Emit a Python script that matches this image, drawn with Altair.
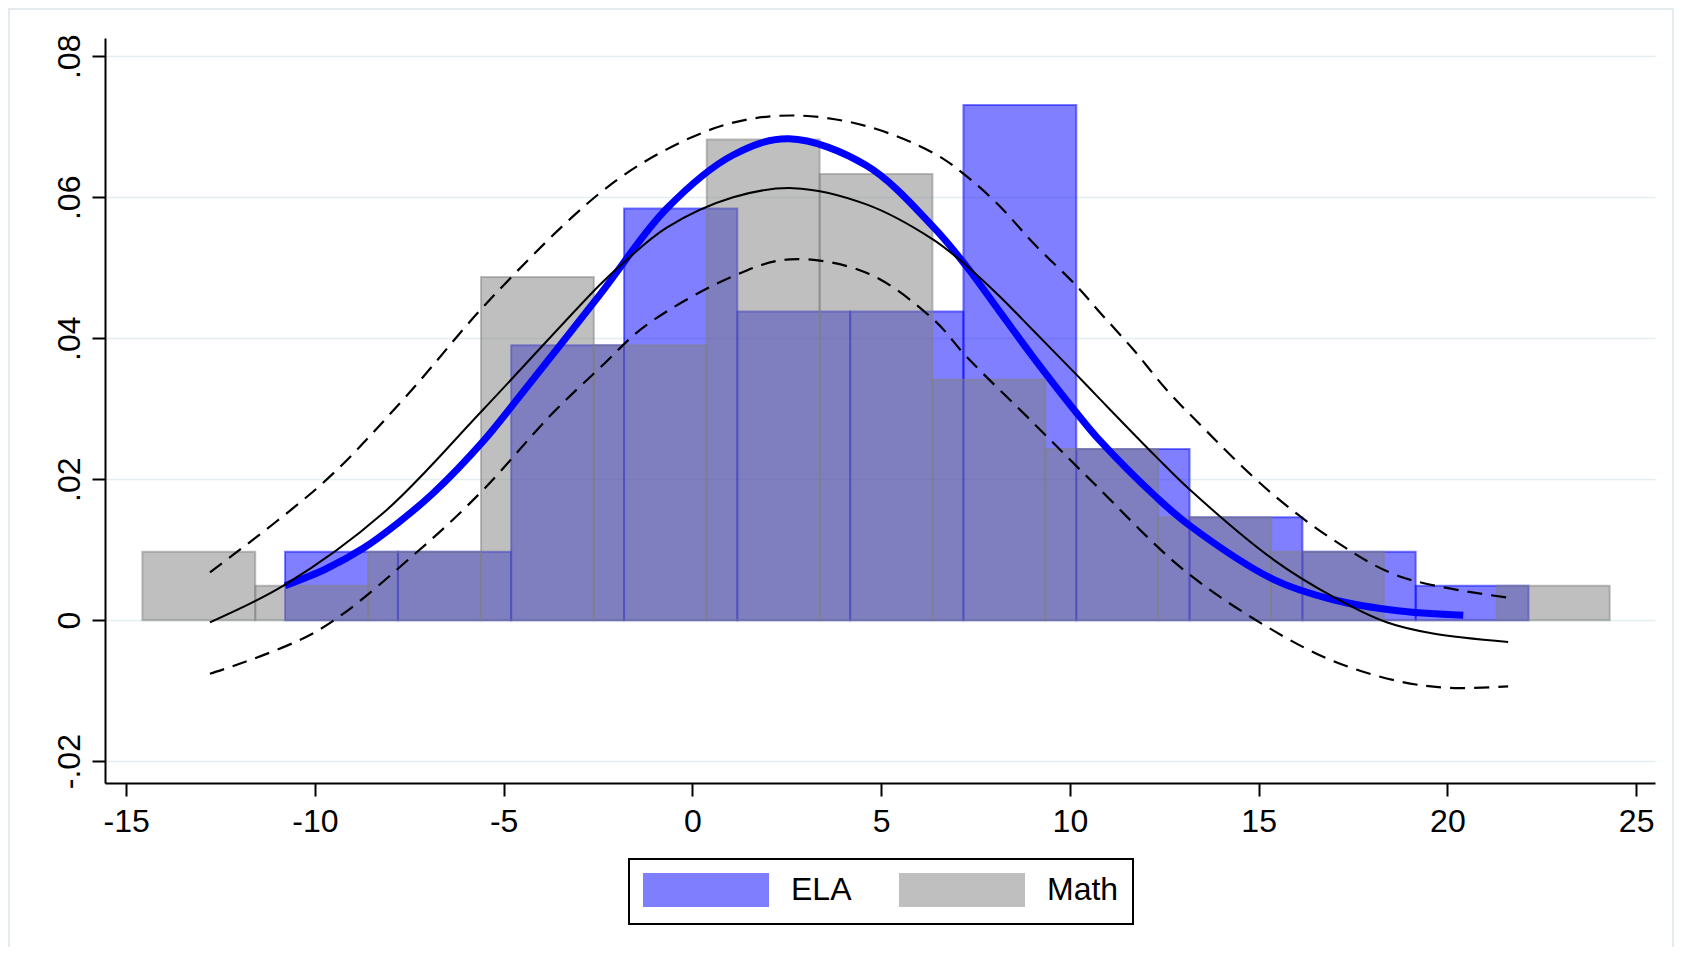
import altair as alt
import pandas as pd

# ---------------- data ----------------
ela_edges = [-10.79, -7.80, -4.80, -1.81, 1.19, 4.18, 7.18, 10.17, 13.17, 16.16, 19.16, 22.15]
ela_density = [0.0097, 0.0097, 0.0390, 0.0584, 0.0438, 0.0438, 0.0731, 0.0243, 0.0146, 0.0097, 0.0049]

math_edges = [-14.57, -11.58, -8.59, -5.60, -2.61, 0.38, 3.37, 6.36, 9.35, 12.34, 15.33, 18.32, 21.31, 24.30]
math_density = [0.0097, 0.0049, 0.0097, 0.0487, 0.0390, 0.0682, 0.0633, 0.0341, 0.0243, 0.0146, 0.0097, 0.0, 0.0049]

ela_curve_x = [-10.79, -9.7, -8.72, -7.8, -6.87, -5.54, -4.66, -2.45, -0.68, 1.08, 2.56, 4.61, 6.38, 7.26,
               8.15, 9.03, 10.18, 10.79, 12.3, 13.18, 15.39, 16.98, 18.74, 20.42]
ela_curve_y = [0.0049, 0.0073, 0.0102, 0.0138, 0.0180, 0.0254, 0.0312, 0.0462, 0.0584, 0.0660, 0.0683, 0.0645, 0.0558, 0.0502,
               0.0437, 0.0373, 0.0294, 0.0255, 0.0174, 0.0134, 0.0058, 0.0029, 0.0013, 0.0007]

fit_x = [-12.78, -10.8, -8.19, -5.54, -2.45, -1.79, -0.68, 1.08, 2.67, 4.61, 6.38, 7.26, 8.15, 9.03,
         10.18, 10.79, 12.3, 13.18, 15.39, 16.98, 18.39, 19.62, 21.61]
fit_y = [-0.0003, 0.0050, 0.0152, 0.0299, 0.0476, 0.0509, 0.0557, 0.0600, 0.0613, 0.0590, 0.0540, 0.0503, 0.0459, 0.0411,
         0.0348, 0.0314, 0.0231, 0.0185, 0.0086, 0.0033, -0.0003, -0.0019, -0.0031]

upper_x = [-12.78, -9.78, -7.66, -5.36, -2.45, -0.68, 1.08, 2.76, 4.61, 6.38, 7.26, 8.15, 9.03, 10.18,
           10.79, 11.68, 12.56, 13.44, 15.3, 16.98, 18.74, 21.61]
upper_y = [0.0068, 0.0195, 0.0313, 0.0455, 0.0606, 0.0668, 0.0706, 0.0716, 0.0701, 0.0663, 0.0630, 0.0587, 0.0535, 0.0474,
           0.0437, 0.0384, 0.0327, 0.0278, 0.0182, 0.0114, 0.0062, 0.0032]

lower_x = [-12.78, -9.96, -7.31, -5.54, -3.77, -2.45, -1.21, 1.08, 2.58, 4.61, 6.38, 7.26, 9.03, 10.62,
           13.0, 15.21, 16.98, 18.74, 20.07, 21.61]
lower_y = [-0.0076, -0.0016, 0.0096, 0.0185, 0.0290, 0.0358, 0.0419, 0.0488, 0.0512, 0.0493, 0.0427, 0.0374, 0.0280, 0.0195,
           0.0072, -0.0009, -0.0058, -0.0087, -0.0096, -0.0094]

series_names = ["ELA", "Math"]
series_colors = ["#0000ff", "#808080"]
x_ticks = [-15, -10, -5, 0, 5, 10, 15, 20, 25]
y_ticks = [-0.02, 0, 0.02, 0.04, 0.06, 0.08]

# ---------------- tables ----------------
rows = []
for i, d in enumerate(ela_density):
    rows.append({"series": "ELA", "x0": ela_edges[i], "x1": ela_edges[i + 1], "d": d, "base": 0.0})
for i, d in enumerate(math_density):
    rows.append({"series": "Math", "x0": math_edges[i], "x1": math_edges[i + 1], "d": d, "base": 0.0})
bars_df = pd.DataFrame(rows)

ela_df = pd.DataFrame({"x": ela_curve_x, "y": ela_curve_y})
fit_df = pd.DataFrame({"x": fit_x, "y": fit_y})
up_df = pd.DataFrame({"x": upper_x, "y": upper_y})
lo_df = pd.DataFrame({"x": lower_x, "y": lower_y})

W, H = 1550, 745

xscale = alt.Scale(domain=[-15.56, 25.5], nice=False, zero=False)
yscale = alt.Scale(domain=[-0.0231, 0.0826], nice=False, zero=False)

xaxis = alt.Axis(values=x_ticks, title=None, grid=False, labelExpr="'' + datum.value",
                 labelPadding=10, labelAngle=0)
yaxis = alt.Axis(values=y_ticks, title=None, grid=True,
                 labelExpr="datum.value == 0 ? '0' : replace('' + datum.value, '0.', '.')",
                 labelAngle=-90, labelAlign="center", labelBaseline="bottom", labelPadding=6)

cscale = alt.Scale(domain=series_names, range=series_colors)
leg = alt.Legend(title=None, orient="none", legendX=524, legendY=821, direction="horizontal")

frame = alt.Chart(pd.DataFrame({"a": [0]})).mark_rect(
    fillOpacity=0, stroke="#e3ebee", strokeWidth=2
).encode(x=alt.value(-96), x2=alt.value(1568), y=alt.value(-29), y2=alt.value(910))

bars = alt.Chart(bars_df).mark_rect(fillOpacity=0.5, strokeOpacity=0.5, strokeWidth=2).encode(
    x=alt.X("x0:Q", scale=xscale, axis=xaxis),
    x2="x1:Q",
    y=alt.Y("d:Q", scale=yscale, axis=yaxis),
    y2="base:Q",
    fill=alt.Fill("series:N", scale=cscale, legend=leg),
    stroke=alt.Stroke("series:N", scale=cscale, legend=leg),
)


def line(df, **kw):
    return alt.Chart(df).mark_line(interpolate="catmull-rom", **kw).encode(
        x=alt.X("x:Q", scale=xscale, axis=xaxis),
        y=alt.Y("y:Q", scale=yscale, axis=yaxis),
    )


ela_line = line(ela_df, color="#0000ff", strokeWidth=7)
fit_line = line(fit_df, color="black", strokeWidth=2)
up_line = line(up_df, color="black", strokeWidth=2.2, strokeDash=[15, 9])
lo_line = line(lo_df, color="black", strokeWidth=2.2, strokeDash=[15, 9])

chart = alt.layer(frame, bars, ela_line, fit_line, up_line, lo_line).properties(
    width=W, height=H,
    autosize=alt.AutoSizeParams(type="none"),
    padding={"left": 97, "top": 30, "right": 20, "bottom": 164},
    background="white",
).configure_view(strokeWidth=0).configure_axis(
    labelFont="Liberation Sans", labelFontSize=32, labelColor="black",
    domainColor="black", domainWidth=2, tickColor="black", tickWidth=2, tickSize=13,
    gridColor="#e4eef1", gridWidth=1.5,
).configure_legend(
    labelFont="Liberation Sans", labelFontSize=32, labelColor="black",
    symbolType="M-1,-1H6.75V1H-1Z", symbolSize=1024, symbolStrokeWidth=2,
    symbolOpacity=0.5, labelOffset=114, columnPadding=44, padding=14,
    strokeColor="black", strokeWidth=2, fillColor="white", cornerRadius=0,
)

chart.save("out.html", embed_options={"renderer": "svg", "actions": False})
